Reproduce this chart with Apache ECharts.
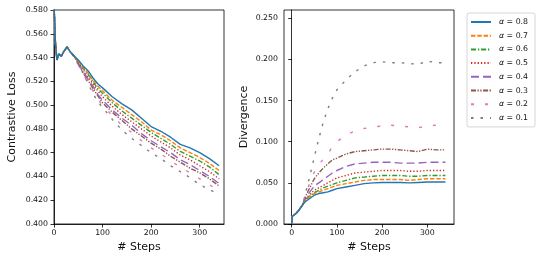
<!DOCTYPE html>
<html>
<head>
<meta charset="utf-8">
<script src="https://cdn.jsdelivr.net/npm/echarts@6/dist/echarts.min.js"></script>
<style>html,body{margin:0;padding:0;background:#fff}#c{width:540px;height:261px}</style>
</head>
<body>
<div id="c"></div>
<script>
// ---- data ----
const seriesNames = ['α = 0.8','α = 0.7','α = 0.6','α = 0.5','α = 0.4','α = 0.3','α = 0.2','α = 0.1'];
const xTicks = [0, 100, 200, 300];
const lossTicks = [0.40,0.42,0.44,0.46,0.48,0.50,0.52,0.54,0.56,0.58];
const divTicks = [0, 0.05, 0.10, 0.15, 0.20, 0.25];

const lossSteps = [0,3,6,10,15,20,27,33,40,50,60,70,80,90,100,120,140,160,180,200,220,240,260,280,300,320,340];
const loss08 = [0.585,0.552,0.538,0.543,0.541,0.545,0.549,0.545,0.542,0.538,0.533,0.529,0.523,0.518,0.5145,0.507,0.501,0.496,0.489,0.482,0.478,0.473,0.467,0.464,0.460,0.455,0.449];
const loss07 = [0.585,0.552,0.538,0.543,0.541,0.545,0.549,0.545,0.542,0.537,0.532,0.527,0.521,0.516,0.512,0.504,0.498,0.492,0.486,0.479,0.475,0.470,0.464,0.460,0.456,0.451,0.445];
const loss06 = [0.585,0.552,0.538,0.543,0.541,0.545,0.549,0.545,0.542,0.537,0.531,0.526,0.520,0.514,0.510,0.502,0.495,0.489,0.483,0.477,0.472,0.467,0.461,0.457,0.453,0.448,0.4415];
const loss05 = [0.585,0.552,0.538,0.543,0.541,0.545,0.549,0.545,0.542,0.536,0.530,0.524,0.518,0.512,0.507,0.499,0.492,0.486,0.480,0.474,0.469,0.464,0.458,0.454,0.449,0.444,0.438];
const loss04 = [0.585,0.552,0.538,0.543,0.541,0.545,0.549,0.545,0.542,0.535,0.528,0.522,0.516,0.509,0.504,0.496,0.489,0.483,0.476,0.470,0.465,0.460,0.454,0.450,0.445,0.440,0.434];
const loss03 = [0.585,0.552,0.538,0.543,0.541,0.545,0.549,0.545,0.542,0.535,0.527,0.521,0.514,0.508,0.502,0.494,0.487,0.480,0.474,0.468,0.463,0.457,0.452,0.447,0.443,0.438,0.432];
const loss02 = [0.585,0.552,0.538,0.543,0.541,0.545,0.549,0.545,0.542,0.534,0.526,0.519,0.512,0.505,0.500,0.491,0.483,0.477,0.470,0.464,0.459,0.453,0.448,0.443,0.438,0.433,0.428];
const loss01 = [0.585,0.552,0.538,0.543,0.541,0.545,0.549,0.545,0.541,0.534,0.527,0.518,0.510,0.503,0.498,0.488,0.479,0.472,0.466,0.460,0.455,0.449,0.444,0.439,0.433,0.429,0.4245];

const divSteps = [0,1,5,10,15,20,25,30,40,50,60,70,80,90,100,120,140,160,180,200,220,240,260,280,300,320,340];
const div08 = [0,0.009,0.011,0.013,0.016,0.020,0.024,0.027,0.031,0.035,0.037,0.038,0.039,0.041,0.043,0.045,0.047,0.049,0.050,0.0505,0.0505,0.0505,0.050,0.0505,0.051,0.051,0.051];
const div07 = [0,0.009,0.011,0.013,0.016,0.020,0.024,0.028,0.033,0.037,0.039,0.041,0.043,0.045,0.047,0.049,0.051,0.053,0.054,0.054,0.054,0.054,0.053,0.054,0.055,0.055,0.055];
const div06 = [0,0.009,0.011,0.013,0.016,0.020,0.024,0.029,0.034,0.038,0.041,0.044,0.046,0.048,0.050,0.053,0.056,0.057,0.058,0.059,0.059,0.059,0.058,0.058,0.059,0.059,0.059];
const div05 = [0,0.009,0.011,0.013,0.016,0.020,0.024,0.030,0.036,0.041,0.044,0.047,0.050,0.053,0.056,0.059,0.062,0.063,0.064,0.065,0.065,0.065,0.064,0.064,0.065,0.065,0.065];
const div04 = [0,0.009,0.011,0.013,0.016,0.020,0.024,0.031,0.039,0.046,0.050,0.054,0.058,0.062,0.065,0.070,0.073,0.074,0.075,0.075,0.075,0.074,0.074,0.074,0.075,0.075,0.075];
const div03 = [0,0.009,0.011,0.013,0.016,0.020,0.024,0.033,0.044,0.055,0.062,0.068,0.073,0.078,0.080,0.085,0.088,0.089,0.090,0.091,0.091,0.090,0.089,0.088,0.091,0.090,0.090];
const div02 = [0,0.009,0.011,0.013,0.016,0.020,0.024,0.035,0.050,0.063,0.072,0.079,0.085,0.094,0.100,0.108,0.113,0.116,0.118,0.119,0.120,0.119,0.118,0.117,0.119,0.120,0.120];
const div01 = [0,0.009,0.011,0.013,0.016,0.020,0.024,0.036,0.058,0.081,0.104,0.124,0.140,0.153,0.163,0.175,0.185,0.192,0.196,0.197,0.196,0.196,0.195,0.194,0.198,0.196,0.196];

// ---- styles ----
const colors = ['#1f77b4','#ff7f0e','#2ca02c','#d62728','#9467bd','#8c564b','#e377c2','#7f7f7f'];
const dashes = ['solid',[4.4,1.9],[5,1.9,1.3,1.9],[1.3,2],[8,4],[5,1.5,1.3,1.5,1.3,1.5],[3,11],[2.5,7]];
const lossData = [loss08,loss07,loss06,loss05,loss04,loss03,loss02,loss01];
const divData = [div08,div07,div06,div05,div04,div03,div02,div01];
const FONT = 'DejaVu Sans';

function pairs(xs, ys){ return xs.map((x,i)=>[x, ys[i]]); }

const series = [];
seriesNames.forEach((n,i)=>{
  series.push({name:n,type:'line',xAxisIndex:0,yAxisIndex:0,data:pairs(lossSteps,lossData[i]),
    showSymbol:false,symbol:'none',clip:true,animation:false,z:10-i,
    lineStyle:{color:colors[i],width:1.4,type:dashes[i]},itemStyle:{color:colors[i]}});
});
seriesNames.forEach((n,i)=>{
  series.push({name:n,type:'line',xAxisIndex:1,yAxisIndex:1,data:pairs(divSteps,divData[i]),
    showSymbol:false,symbol:'none',clip:true,animation:false,z:10-i,
    lineStyle:{color:colors[i],width:1.4,type:dashes[i]},itemStyle:{color:colors[i]}});
});

const tickLbl = {fontFamily:FONT,fontSize:7.8,color:'#111'};
function xAxis(idx,min,max){
  return {type:'value',gridIndex:idx,min:min,max:max,
    name:'# Steps',nameLocation:'middle',nameGap:17,
    nameTextStyle:{fontFamily:FONT,fontSize:11,color:'#111'},
    axisLine:{show:true,lineStyle:{color:'#000',width:0.8}},
    axisTick:{show:true,inside:false,length:3.5,lineStyle:{color:'#000',width:0.8},customValues:xTicks},
    axisLabel:Object.assign({margin:5,customValues:xTicks,formatter:v=>String(v)},tickLbl),
    splitLine:{show:false}};
}
function yAxis(idx,min,max,ticks,name,gap){
  return {type:'value',gridIndex:idx,min:min,max:max,
    name:name,nameLocation:'middle',nameGap:gap,
    nameTextStyle:{fontFamily:FONT,fontSize:11,color:'#111'},
    axisLine:{show:true,lineStyle:{color:'#000',width:0.8}},
    axisTick:{show:true,inside:false,length:3.5,lineStyle:{color:'#000',width:0.8},customValues:ticks},
    axisLabel:Object.assign({margin:6,customValues:ticks,formatter:v=>v.toFixed(3)},tickLbl),
    splitLine:{show:false}};
}

const chart = echarts.init(document.getElementById('c'),null,{renderer:'canvas'});
chart.setOption({
  animation:false,
  backgroundColor:'#fff',
  grid:[
    {left:54,top:10,width:170,height:214,show:true,borderColor:'#000',borderWidth:0.8,backgroundColor:'transparent'},
    {left:284,top:10,width:170,height:214,show:true,borderColor:'#000',borderWidth:0.8,backgroundColor:'transparent'}
  ],
  xAxis:[xAxis(0,0,350), xAxis(1,-17,359)],
  yAxis:[yAxis(0,0.4,0.58,lossTicks,'Contrastive Loss',36), yAxis(1,0,0.26,divTicks,'Divergence',34)],
  legend:{
    data:seriesNames, orient:'vertical', left:467, top:13,
    padding:[5,7,5,3], itemWidth:20, itemHeight:8, itemGap:5.7,
    itemStyle:{opacity:0},
    borderColor:'#cccccc', borderWidth:0.8, borderRadius:2, backgroundColor:'rgba(255,255,255,0.8)',
    formatter:function(n){ const p=n.split(' = '); return '{a|'+p[0]+'}{b| = '+p[1]+'}'; },
    textStyle:{fontFamily:FONT,fontSize:7.8,color:'#111',lineHeight:8,
      rich:{a:{fontFamily:FONT,fontStyle:'italic',fontSize:7.8,padding:[0,0,0,3]},b:{fontFamily:FONT,fontSize:7.8}}}
  },
  series:series
});
</script>
</body>
</html>
